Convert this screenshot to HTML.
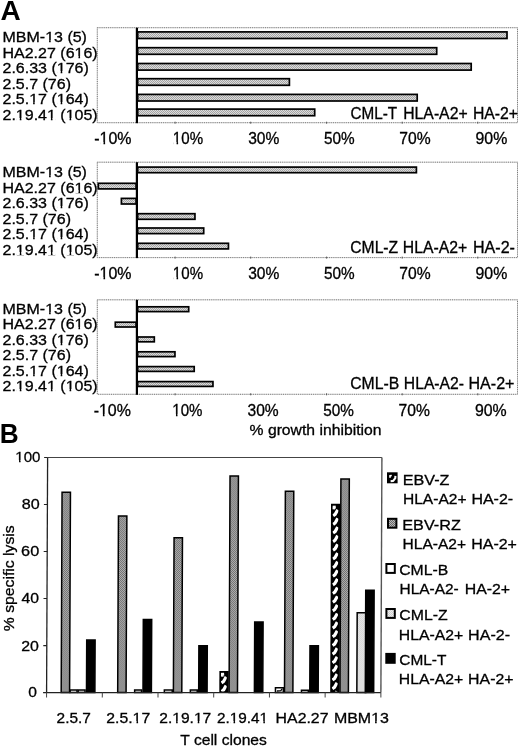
<!DOCTYPE html>
<html><head><meta charset="utf-8"><style>
html,body{margin:0;padding:0;background:#fff;}
svg{display:block;will-change:transform;filter:blur(0.35px);}
text{font-family:"Liberation Sans", sans-serif;fill:#000;stroke:#000;stroke-width:0.3px;}
</style></head><body>
<svg width="520" height="747" viewBox="0 0 520 747">
<defs>
<pattern id="stip" width="2" height="2" patternUnits="userSpaceOnUse"><rect width="2" height="2" fill="#dcdcdc"/><rect width="1" height="1" fill="#a4a4a4"/><rect x="1" y="1" width="1" height="1" fill="#a4a4a4"/></pattern>
<pattern id="stip2" width="2" height="2" patternUnits="userSpaceOnUse"><rect width="2" height="2" fill="#b8b8b8"/><rect width="1" height="1" fill="#686868"/><rect x="1" y="1" width="1" height="1" fill="#686868"/></pattern>
<pattern id="stip3" width="2" height="2" patternUnits="userSpaceOnUse"><rect width="2" height="2" fill="#eee"/><rect width="1" height="1" fill="#cfcfcf"/><rect x="1" y="1" width="1" height="1" fill="#cfcfcf"/></pattern>
</defs>
<rect width="520" height="747" fill="#fff"/>
<text x="0.45" y="20.20" font-size="27.3" textLength="20.21" lengthAdjust="spacingAndGlyphs" font-weight="bold" style="stroke-width:0">A</text>
<rect x="97.3" y="27.7" width="420.2" height="95.00" fill="none" stroke="#d8d8d8" stroke-width="1"/>
<rect x="97.3" y="27.7" width="420.2" height="95.00" fill="none" stroke="#7a7a7a" stroke-width="1" stroke-dasharray="1 1.15"/>
<line x1="175.10" y1="121.70" x2="175.10" y2="123.70" stroke="#555" stroke-width="1"/>
<line x1="250.70" y1="121.70" x2="250.70" y2="123.70" stroke="#555" stroke-width="1"/>
<line x1="326.60" y1="121.70" x2="326.60" y2="123.70" stroke="#555" stroke-width="1"/>
<line x1="402.20" y1="121.70" x2="402.20" y2="123.70" stroke="#555" stroke-width="1"/>
<line x1="477.80" y1="121.70" x2="477.80" y2="123.70" stroke="#555" stroke-width="1"/>
<rect x="137.70" y="31.90" width="369.30" height="6.60" fill="url(#stip)" stroke="#000" stroke-width="1.7"/>
<rect x="137.70" y="47.70" width="299.00" height="6.60" fill="url(#stip)" stroke="#000" stroke-width="1.7"/>
<rect x="137.70" y="63.50" width="333.50" height="6.60" fill="url(#stip)" stroke="#000" stroke-width="1.7"/>
<rect x="137.70" y="78.70" width="151.70" height="6.60" fill="url(#stip)" stroke="#000" stroke-width="1.7"/>
<rect x="137.70" y="94.40" width="279.50" height="6.60" fill="url(#stip)" stroke="#000" stroke-width="1.7"/>
<rect x="137.70" y="109.10" width="177.00" height="6.60" fill="url(#stip)" stroke="#000" stroke-width="1.7"/>
<line x1="136.90" y1="27.70" x2="136.90" y2="123.20" stroke="#000" stroke-width="2.2"/>
<text x="2.50" y="42.10" font-size="15.5" textLength="84.46" lengthAdjust="spacingAndGlyphs">MBM-13 (5)</text>
<text x="2.50" y="57.60" font-size="15.5" textLength="95.17" lengthAdjust="spacingAndGlyphs">HA2.27 (616)</text>
<text x="2.50" y="73.10" font-size="15.5" textLength="86.28" lengthAdjust="spacingAndGlyphs">2.6.33 (176)</text>
<text x="2.50" y="88.60" font-size="15.5" textLength="68.49" lengthAdjust="spacingAndGlyphs">2.5.7 (76)</text>
<text x="2.50" y="104.10" font-size="15.5" textLength="86.28" lengthAdjust="spacingAndGlyphs">2.5.17 (164)</text>
<text x="2.50" y="119.60" font-size="15.5" textLength="95.18" lengthAdjust="spacingAndGlyphs">2.19.41 (105)</text>
<text x="350.54" y="119.00" font-size="15.8" textLength="46.67" lengthAdjust="spacingAndGlyphs">CML-T</text>
<text x="403.24" y="119.00" font-size="15.8" textLength="64.36" lengthAdjust="spacingAndGlyphs">HLA-A2+</text>
<text x="472.94" y="119.00" font-size="15.8" textLength="45.11" lengthAdjust="spacingAndGlyphs">HA-2+</text>
<text x="94.28" y="144.30" font-size="15.8" textLength="37.27" lengthAdjust="spacingAndGlyphs">-10%</text>
<text x="172.87" y="144.30" font-size="15.8" textLength="30.18" lengthAdjust="spacingAndGlyphs">10%</text>
<text x="248.13" y="144.30" font-size="15.8" textLength="31.19" lengthAdjust="spacingAndGlyphs">30%</text>
<text x="323.89" y="144.30" font-size="15.8" textLength="30.67" lengthAdjust="spacingAndGlyphs">50%</text>
<text x="399.22" y="144.30" font-size="15.8" textLength="31.35" lengthAdjust="spacingAndGlyphs">70%</text>
<text x="475.54" y="144.30" font-size="15.8" textLength="31.79" lengthAdjust="spacingAndGlyphs">90%</text>
<rect x="97.3" y="162.2" width="420.2" height="95.40" fill="none" stroke="#d8d8d8" stroke-width="1"/>
<rect x="97.3" y="162.2" width="420.2" height="95.40" fill="none" stroke="#7a7a7a" stroke-width="1" stroke-dasharray="1 1.15"/>
<line x1="175.10" y1="256.60" x2="175.10" y2="258.60" stroke="#555" stroke-width="1"/>
<line x1="250.70" y1="256.60" x2="250.70" y2="258.60" stroke="#555" stroke-width="1"/>
<line x1="326.60" y1="256.60" x2="326.60" y2="258.60" stroke="#555" stroke-width="1"/>
<line x1="402.20" y1="256.60" x2="402.20" y2="258.60" stroke="#555" stroke-width="1"/>
<line x1="477.80" y1="256.60" x2="477.80" y2="258.60" stroke="#555" stroke-width="1"/>
<rect x="137.70" y="167.10" width="278.70" height="5.60" fill="url(#stip)" stroke="#000" stroke-width="1.7"/>
<rect x="98.30" y="183.30" width="37.80" height="5.60" fill="url(#stip)" stroke="#000" stroke-width="1.7"/>
<rect x="121.40" y="198.40" width="14.70" height="5.60" fill="url(#stip)" stroke="#000" stroke-width="1.7"/>
<rect x="137.70" y="213.70" width="57.25" height="5.60" fill="url(#stip)" stroke="#000" stroke-width="1.7"/>
<rect x="137.70" y="228.00" width="66.00" height="5.60" fill="url(#stip)" stroke="#000" stroke-width="1.7"/>
<rect x="137.70" y="243.30" width="90.75" height="5.60" fill="url(#stip)" stroke="#000" stroke-width="1.7"/>
<line x1="136.90" y1="162.20" x2="136.90" y2="258.10" stroke="#000" stroke-width="2.2"/>
<text x="2.50" y="177.00" font-size="15.5" textLength="84.46" lengthAdjust="spacingAndGlyphs">MBM-13 (5)</text>
<text x="2.50" y="192.50" font-size="15.5" textLength="95.17" lengthAdjust="spacingAndGlyphs">HA2.27 (616)</text>
<text x="2.50" y="208.00" font-size="15.5" textLength="86.28" lengthAdjust="spacingAndGlyphs">2.6.33 (176)</text>
<text x="2.50" y="223.50" font-size="15.5" textLength="68.49" lengthAdjust="spacingAndGlyphs">2.5.7 (76)</text>
<text x="2.50" y="239.00" font-size="15.5" textLength="86.28" lengthAdjust="spacingAndGlyphs">2.5.17 (164)</text>
<text x="2.50" y="254.50" font-size="15.5" textLength="95.18" lengthAdjust="spacingAndGlyphs">2.19.41 (105)</text>
<text x="350.22" y="253.30" font-size="15.8" textLength="47.96" lengthAdjust="spacingAndGlyphs">CML-Z</text>
<text x="402.84" y="253.30" font-size="15.8" textLength="64.36" lengthAdjust="spacingAndGlyphs">HLA-A2+</text>
<text x="473.01" y="253.30" font-size="15.8" textLength="41.95" lengthAdjust="spacingAndGlyphs">HA-2-</text>
<text x="94.28" y="279.10" font-size="15.8" textLength="37.27" lengthAdjust="spacingAndGlyphs">-10%</text>
<text x="172.87" y="279.10" font-size="15.8" textLength="30.18" lengthAdjust="spacingAndGlyphs">10%</text>
<text x="248.13" y="279.10" font-size="15.8" textLength="31.19" lengthAdjust="spacingAndGlyphs">30%</text>
<text x="323.89" y="279.10" font-size="15.8" textLength="30.67" lengthAdjust="spacingAndGlyphs">50%</text>
<text x="399.22" y="279.10" font-size="15.8" textLength="31.35" lengthAdjust="spacingAndGlyphs">70%</text>
<text x="475.54" y="279.10" font-size="15.8" textLength="31.79" lengthAdjust="spacingAndGlyphs">90%</text>
<rect x="97.3" y="299.8" width="420.2" height="94.50" fill="none" stroke="#d8d8d8" stroke-width="1"/>
<rect x="97.3" y="299.8" width="420.2" height="94.50" fill="none" stroke="#7a7a7a" stroke-width="1" stroke-dasharray="1 1.15"/>
<line x1="175.10" y1="393.30" x2="175.10" y2="395.30" stroke="#555" stroke-width="1"/>
<line x1="250.70" y1="393.30" x2="250.70" y2="395.30" stroke="#555" stroke-width="1"/>
<line x1="326.60" y1="393.30" x2="326.60" y2="395.30" stroke="#555" stroke-width="1"/>
<line x1="402.20" y1="393.30" x2="402.20" y2="395.30" stroke="#555" stroke-width="1"/>
<line x1="477.80" y1="393.30" x2="477.80" y2="395.30" stroke="#555" stroke-width="1"/>
<rect x="137.70" y="306.80" width="51.00" height="4.80" fill="url(#stip)" stroke="#000" stroke-width="1.7"/>
<rect x="115.30" y="322.20" width="20.80" height="4.80" fill="url(#stip)" stroke="#000" stroke-width="1.7"/>
<rect x="137.70" y="337.00" width="16.60" height="4.80" fill="url(#stip)" stroke="#000" stroke-width="1.7"/>
<rect x="137.70" y="351.80" width="37.25" height="4.80" fill="url(#stip)" stroke="#000" stroke-width="1.7"/>
<rect x="137.70" y="366.60" width="56.50" height="4.80" fill="url(#stip)" stroke="#000" stroke-width="1.7"/>
<rect x="137.70" y="381.60" width="75.25" height="4.80" fill="url(#stip)" stroke="#000" stroke-width="1.7"/>
<line x1="136.90" y1="299.80" x2="136.90" y2="394.80" stroke="#000" stroke-width="2.2"/>
<text x="2.50" y="313.80" font-size="15.5" textLength="84.46" lengthAdjust="spacingAndGlyphs">MBM-13 (5)</text>
<text x="2.50" y="329.30" font-size="15.5" textLength="95.17" lengthAdjust="spacingAndGlyphs">HA2.27 (616)</text>
<text x="2.50" y="344.80" font-size="15.5" textLength="86.28" lengthAdjust="spacingAndGlyphs">2.6.33 (176)</text>
<text x="2.50" y="360.30" font-size="15.5" textLength="68.49" lengthAdjust="spacingAndGlyphs">2.5.7 (76)</text>
<text x="2.50" y="375.80" font-size="15.5" textLength="86.28" lengthAdjust="spacingAndGlyphs">2.5.17 (164)</text>
<text x="2.50" y="391.30" font-size="15.5" textLength="95.18" lengthAdjust="spacingAndGlyphs">2.19.41 (105)</text>
<text x="350.21" y="389.20" font-size="15.8" textLength="49.00" lengthAdjust="spacingAndGlyphs">CML-B</text>
<text x="403.85" y="389.20" font-size="15.8" textLength="60.16" lengthAdjust="spacingAndGlyphs">HLA-A2-</text>
<text x="468.52" y="389.20" font-size="15.8" textLength="45.95" lengthAdjust="spacingAndGlyphs">HA-2+</text>
<text x="93.68" y="416.00" font-size="15.8" textLength="37.27" lengthAdjust="spacingAndGlyphs">-10%</text>
<text x="172.27" y="416.00" font-size="15.8" textLength="30.18" lengthAdjust="spacingAndGlyphs">10%</text>
<text x="247.53" y="416.00" font-size="15.8" textLength="31.19" lengthAdjust="spacingAndGlyphs">30%</text>
<text x="323.29" y="416.00" font-size="15.8" textLength="30.67" lengthAdjust="spacingAndGlyphs">50%</text>
<text x="398.62" y="416.00" font-size="15.8" textLength="31.35" lengthAdjust="spacingAndGlyphs">70%</text>
<text x="474.94" y="416.00" font-size="15.8" textLength="31.79" lengthAdjust="spacingAndGlyphs">90%</text>
<text x="249.55" y="434.70" font-size="15.0" textLength="131.95" lengthAdjust="spacingAndGlyphs">% growth inhibition</text>
<text x="-0.20" y="443.30" font-size="27.6" textLength="18.94" lengthAdjust="spacingAndGlyphs" font-weight="bold" style="stroke-width:0">B</text>
<g transform="translate(0,575) skewX(-0.25) translate(0,-575)">
<line x1="47.10" y1="457.50" x2="381.40" y2="457.50" stroke="#444" stroke-width="1.1"/>
<line x1="381.40" y1="457.50" x2="381.40" y2="692.60" stroke="#555" stroke-width="1.4"/>
<rect x="61.70" y="492.34" width="8.40" height="200.26" fill="url(#stip2)" stroke="#000" stroke-width="1.5"/>
<rect x="70.65" y="690.06" width="6.90" height="2.54" fill="#fff" stroke="#000" stroke-width="1.5"/>
<rect x="78.65" y="690.06" width="6.90" height="2.54" fill="url(#stip3)" stroke="#000" stroke-width="1.5"/>
<rect x="87.00" y="639.98" width="8.40" height="52.62" fill="#000" stroke="#000" stroke-width="1.5"/>
<rect x="118.20" y="516.08" width="8.40" height="176.52" fill="url(#stip2)" stroke="#000" stroke-width="1.5"/>
<rect x="135.15" y="690.06" width="6.90" height="2.54" fill="url(#stip3)" stroke="#000" stroke-width="1.5"/>
<rect x="143.50" y="619.53" width="8.40" height="73.07" fill="#000" stroke="#000" stroke-width="1.5"/>
<rect x="164.85" y="690.06" width="7.90" height="2.54" fill="#fff" stroke="#000" stroke-width="1.5"/>
<rect x="173.90" y="537.71" width="8.40" height="154.89" fill="url(#stip2)" stroke="#000" stroke-width="1.5"/>
<rect x="190.85" y="690.06" width="6.90" height="2.54" fill="url(#stip3)" stroke="#000" stroke-width="1.5"/>
<rect x="199.20" y="645.86" width="8.40" height="46.74" fill="#000" stroke="#000" stroke-width="1.5"/>
<rect x="219.80" y="670.97" width="9.40" height="21.63" fill="#000"/>
<clipPath id="hc1"><rect x="221.40" y="672.57" width="5.80" height="18.83"/></clipPath>
<path clip-path="url(#hc1)" d="M222.30 676.57 L222.50 674.17 L224.60 673.97 M222.00 682.87 L224.00 681.47 L226.60 676.87 M222.00 691.52 L224.00 690.12 L226.60 685.52 M222.00 700.17 L224.00 698.77 L226.60 694.17" stroke="#fff" stroke-width="3.2" fill="none"/>
<rect x="229.60" y="476.12" width="8.40" height="216.48" fill="url(#stip2)" stroke="#000" stroke-width="1.5"/>
<rect x="254.90" y="622.11" width="8.40" height="70.49" fill="#000" stroke="#000" stroke-width="1.5"/>
<rect x="275.95" y="687.71" width="7.90" height="4.89" fill="#fff" stroke="#000" stroke-width="1.5"/>
<path d="M277.40 691.00 L281.40 690.70 L282.60 688.76" stroke="#000" stroke-width="1.3" fill="none"/>
<rect x="285.00" y="491.16" width="8.40" height="201.44" fill="url(#stip2)" stroke="#000" stroke-width="1.5"/>
<rect x="301.95" y="690.29" width="6.90" height="2.31" fill="url(#stip3)" stroke="#000" stroke-width="1.5"/>
<rect x="310.30" y="645.86" width="8.40" height="46.74" fill="#000" stroke="#000" stroke-width="1.5"/>
<rect x="330.70" y="503.81" width="9.40" height="188.79" fill="#000"/>
<clipPath id="hc2"><rect x="332.30" y="505.41" width="5.80" height="185.99"/></clipPath>
<path clip-path="url(#hc2)" d="M333.20 509.41 L333.40 507.01 L335.50 506.81 M332.90 515.71 L334.90 514.31 L337.50 509.71 M332.90 524.36 L334.90 522.96 L337.50 518.36 M332.90 533.01 L334.90 531.61 L337.50 527.01 M332.90 541.66 L334.90 540.26 L337.50 535.66 M332.90 550.31 L334.90 548.91 L337.50 544.31 M332.90 558.96 L334.90 557.56 L337.50 552.96 M332.90 567.61 L334.90 566.21 L337.50 561.61 M332.90 576.26 L334.90 574.86 L337.50 570.26 M332.90 584.91 L334.90 583.51 L337.50 578.91 M332.90 593.56 L334.90 592.16 L337.50 587.56 M332.90 602.21 L334.90 600.81 L337.50 596.21 M332.90 610.86 L334.90 609.46 L337.50 604.86 M332.90 619.51 L334.90 618.11 L337.50 613.51 M332.90 628.16 L334.90 626.76 L337.50 622.16 M332.90 636.81 L334.90 635.41 L337.50 630.81 M332.90 645.46 L334.90 644.06 L337.50 639.46 M332.90 654.11 L334.90 652.71 L337.50 648.11 M332.90 662.76 L334.90 661.36 L337.50 656.76 M332.90 671.41 L334.90 670.01 L337.50 665.41 M332.90 680.06 L334.90 678.66 L337.50 674.06 M332.90 688.71 L334.90 687.31 L337.50 682.71 M332.90 697.36 L334.90 695.96 L337.50 691.36" stroke="#fff" stroke-width="3.2" fill="none"/>
<rect x="340.50" y="478.94" width="8.40" height="213.66" fill="url(#stip2)" stroke="#000" stroke-width="1.5"/>
<rect x="357.35" y="612.71" width="8.90" height="79.89" fill="url(#stip3)" stroke="#000" stroke-width="1.5"/>
<rect x="365.80" y="590.14" width="8.40" height="102.46" fill="#000" stroke="#000" stroke-width="1.5"/>
<line x1="47.10" y1="457.50" x2="47.10" y2="692.60" stroke="#222" stroke-width="1.3"/>
<line x1="46.50" y1="692.60" x2="381.40" y2="692.60" stroke="#222" stroke-width="1.4"/>
<line x1="43.60" y1="692.60" x2="47.10" y2="692.60" stroke="#222" stroke-width="1.1"/>
<line x1="43.60" y1="645.58" x2="47.10" y2="645.58" stroke="#222" stroke-width="1.1"/>
<line x1="43.60" y1="598.56" x2="47.10" y2="598.56" stroke="#222" stroke-width="1.1"/>
<line x1="43.60" y1="551.54" x2="47.10" y2="551.54" stroke="#222" stroke-width="1.1"/>
<line x1="43.60" y1="504.52" x2="47.10" y2="504.52" stroke="#222" stroke-width="1.1"/>
<line x1="43.60" y1="457.50" x2="47.10" y2="457.50" stroke="#222" stroke-width="1.1"/>
<line x1="47.10" y1="692.60" x2="47.10" y2="697.60" stroke="#444" stroke-width="1"/>
<line x1="102.82" y1="692.60" x2="102.82" y2="697.60" stroke="#444" stroke-width="1"/>
<line x1="158.53" y1="692.60" x2="158.53" y2="697.60" stroke="#444" stroke-width="1"/>
<line x1="214.25" y1="692.60" x2="214.25" y2="697.60" stroke="#444" stroke-width="1"/>
<line x1="269.97" y1="692.60" x2="269.97" y2="697.60" stroke="#444" stroke-width="1"/>
<line x1="325.68" y1="692.60" x2="325.68" y2="697.60" stroke="#444" stroke-width="1"/>
<line x1="381.40" y1="692.60" x2="381.40" y2="697.60" stroke="#444" stroke-width="1"/>
</g>
<text x="15.37" y="461.90" font-size="15.0" textLength="25.11" lengthAdjust="spacingAndGlyphs">100</text>
<text x="21.77" y="508.90" font-size="15.0" textLength="17.93" lengthAdjust="spacingAndGlyphs">80</text>
<text x="21.09" y="555.60" font-size="15.0" textLength="18.12" lengthAdjust="spacingAndGlyphs">60</text>
<text x="21.59" y="602.80" font-size="15.0" textLength="17.50" lengthAdjust="spacingAndGlyphs">40</text>
<text x="21.20" y="650.60" font-size="15.0" textLength="17.69" lengthAdjust="spacingAndGlyphs">20</text>
<text x="28.27" y="697.20" font-size="15.0" textLength="8.69" lengthAdjust="spacingAndGlyphs">0</text>
<text x="56.63" y="722.60" font-size="15.0" textLength="34.33" lengthAdjust="spacingAndGlyphs">2.5.7</text>
<text x="106.31" y="722.60" font-size="15.0" textLength="43.88" lengthAdjust="spacingAndGlyphs">2.5.17</text>
<text x="159.32" y="722.60" font-size="15.0" textLength="51.88" lengthAdjust="spacingAndGlyphs">2.19.17</text>
<text x="217.03" y="722.60" font-size="15.0" textLength="51.08" lengthAdjust="spacingAndGlyphs">2.19.41</text>
<text x="275.63" y="722.60" font-size="15.0" textLength="52.87" lengthAdjust="spacingAndGlyphs">HA2.27</text>
<text x="333.92" y="722.60" font-size="15.0" textLength="55.02" lengthAdjust="spacingAndGlyphs">MBM13</text>
<text x="180.29" y="744.50" font-size="15.0" textLength="86.55" lengthAdjust="spacingAndGlyphs">T cell clones</text>
<text x="-631.25" y="13.8" font-size="15.0" transform="rotate(-90)" textLength="105.98" lengthAdjust="spacingAndGlyphs">% specific lysis</text>
<rect x="387.00" y="472.30" width="10.60" height="11.00" fill="#000"/>
<path d="M390.6 481.2 L393.2 480.9 L395.3 478.1 L395.4 475.9" stroke="#fff" stroke-width="2.1" fill="none" stroke-linejoin="round"/>
<path d="M390.0 477.7 L390.1 475.7 L391.8 475.5" stroke="#fff" stroke-width="1.7" fill="none"/>
<text x="402.71" y="485.00" font-size="15.0" textLength="46.78" lengthAdjust="spacingAndGlyphs">EBV-Z</text>
<text x="402.95" y="503.60" font-size="15.0" textLength="63.63" lengthAdjust="spacingAndGlyphs">HLA-A2+</text>
<text x="471.42" y="503.60" font-size="15.0" textLength="41.74" lengthAdjust="spacingAndGlyphs">HA-2-</text>
<rect x="388.00" y="518.80" width="8.40" height="8.90" fill="url(#stip2)" stroke="#000" stroke-width="2"/>
<text x="402.30" y="529.80" font-size="15.0" textLength="58.51" lengthAdjust="spacingAndGlyphs">EBV-RZ</text>
<text x="402.56" y="549.00" font-size="15.0" textLength="63.53" lengthAdjust="spacingAndGlyphs">HLA-A2+</text>
<text x="471.22" y="549.00" font-size="15.0" textLength="45.74" lengthAdjust="spacingAndGlyphs">HA-2+</text>
<rect x="386.40" y="564.00" width="8.40" height="8.90" fill="#fff" stroke="#000" stroke-width="2"/>
<text x="399.21" y="575.30" font-size="15.0" textLength="49.00" lengthAdjust="spacingAndGlyphs">CML-B</text>
<text x="399.56" y="593.70" font-size="15.0" textLength="59.23" lengthAdjust="spacingAndGlyphs">HLA-A2-</text>
<text x="464.73" y="593.70" font-size="15.0" textLength="45.42" lengthAdjust="spacingAndGlyphs">HA-2+</text>
<rect x="386.40" y="609.00" width="8.40" height="8.90" fill="url(#stip3)" stroke="#000" stroke-width="2"/>
<text x="399.31" y="620.20" font-size="15.0" textLength="48.37" lengthAdjust="spacingAndGlyphs">CML-Z</text>
<text x="398.84" y="639.60" font-size="15.0" textLength="64.46" lengthAdjust="spacingAndGlyphs">HLA-A2+</text>
<text x="468.11" y="639.60" font-size="15.0" textLength="41.95" lengthAdjust="spacingAndGlyphs">HA-2-</text>
<rect x="386.30" y="653.90" width="8.40" height="8.90" fill="#000" stroke="#000" stroke-width="2"/>
<text x="399.33" y="664.80" font-size="15.0" textLength="47.08" lengthAdjust="spacingAndGlyphs">CML-T</text>
<text x="398.84" y="683.75" font-size="15.0" textLength="64.46" lengthAdjust="spacingAndGlyphs">HLA-A2+</text>
<text x="468.13" y="683.75" font-size="15.0" textLength="45.37" lengthAdjust="spacingAndGlyphs">HA-2+</text>
<rect x="45.68" y="40.00" width="3.40" height="3.00" fill="#fff"/>
<rect x="50.69" y="40.00" width="3.32" height="3.00" fill="#fff"/>
<rect x="75.06" y="56.00" width="3.40" height="3.00" fill="#fff"/>
<rect x="80.08" y="56.00" width="3.32" height="3.00" fill="#fff"/>
<rect x="57.27" y="71.00" width="3.40" height="3.00" fill="#fff"/>
<rect x="62.28" y="71.00" width="3.32" height="3.00" fill="#fff"/>
<rect x="29.71" y="102.00" width="3.40" height="3.00" fill="#fff"/>
<rect x="34.72" y="102.00" width="3.32" height="3.00" fill="#fff"/>
<rect x="57.27" y="102.00" width="3.40" height="3.00" fill="#fff"/>
<rect x="62.28" y="102.00" width="3.32" height="3.00" fill="#fff"/>
<rect x="16.37" y="118.00" width="3.40" height="3.00" fill="#fff"/>
<rect x="21.39" y="118.00" width="3.32" height="3.00" fill="#fff"/>
<rect x="47.51" y="118.00" width="3.39" height="3.00" fill="#fff"/>
<rect x="52.52" y="118.00" width="3.32" height="3.00" fill="#fff"/>
<rect x="66.17" y="118.00" width="3.40" height="3.00" fill="#fff"/>
<rect x="71.19" y="118.00" width="3.32" height="3.00" fill="#fff"/>
<rect x="100.12" y="142.00" width="3.38" height="3.00" fill="#fff"/>
<rect x="105.11" y="142.00" width="3.31" height="3.00" fill="#fff"/>
<rect x="173.37" y="142.00" width="3.19" height="3.00" fill="#fff"/>
<rect x="178.10" y="142.00" width="3.12" height="3.00" fill="#fff"/>
<rect x="45.68" y="175.00" width="3.40" height="3.00" fill="#fff"/>
<rect x="50.69" y="175.00" width="3.32" height="3.00" fill="#fff"/>
<rect x="75.06" y="190.00" width="3.40" height="3.00" fill="#fff"/>
<rect x="80.08" y="190.00" width="3.32" height="3.00" fill="#fff"/>
<rect x="57.27" y="206.00" width="3.40" height="3.00" fill="#fff"/>
<rect x="62.28" y="206.00" width="3.32" height="3.00" fill="#fff"/>
<rect x="29.71" y="237.00" width="3.40" height="3.00" fill="#fff"/>
<rect x="34.72" y="237.00" width="3.32" height="3.00" fill="#fff"/>
<rect x="57.27" y="237.00" width="3.40" height="3.00" fill="#fff"/>
<rect x="62.28" y="237.00" width="3.32" height="3.00" fill="#fff"/>
<rect x="16.37" y="252.00" width="3.40" height="3.00" fill="#fff"/>
<rect x="21.39" y="252.00" width="3.32" height="3.00" fill="#fff"/>
<rect x="47.51" y="252.00" width="3.39" height="3.00" fill="#fff"/>
<rect x="52.52" y="252.00" width="3.32" height="3.00" fill="#fff"/>
<rect x="66.17" y="252.00" width="3.40" height="3.00" fill="#fff"/>
<rect x="71.19" y="252.00" width="3.32" height="3.00" fill="#fff"/>
<rect x="100.12" y="277.00" width="3.38" height="3.00" fill="#fff"/>
<rect x="105.11" y="277.00" width="3.31" height="3.00" fill="#fff"/>
<rect x="173.37" y="277.00" width="3.19" height="3.00" fill="#fff"/>
<rect x="178.10" y="277.00" width="3.12" height="3.00" fill="#fff"/>
<rect x="45.68" y="312.00" width="3.40" height="3.00" fill="#fff"/>
<rect x="50.69" y="312.00" width="3.32" height="3.00" fill="#fff"/>
<rect x="75.06" y="327.00" width="3.40" height="3.00" fill="#fff"/>
<rect x="80.08" y="327.00" width="3.32" height="3.00" fill="#fff"/>
<rect x="57.27" y="343.00" width="3.40" height="3.00" fill="#fff"/>
<rect x="62.28" y="343.00" width="3.32" height="3.00" fill="#fff"/>
<rect x="29.71" y="374.00" width="3.40" height="3.00" fill="#fff"/>
<rect x="34.72" y="374.00" width="3.32" height="3.00" fill="#fff"/>
<rect x="57.27" y="374.00" width="3.40" height="3.00" fill="#fff"/>
<rect x="62.28" y="374.00" width="3.32" height="3.00" fill="#fff"/>
<rect x="16.37" y="389.00" width="3.40" height="3.00" fill="#fff"/>
<rect x="21.39" y="389.00" width="3.32" height="3.00" fill="#fff"/>
<rect x="47.51" y="389.00" width="3.39" height="3.00" fill="#fff"/>
<rect x="52.52" y="389.00" width="3.32" height="3.00" fill="#fff"/>
<rect x="66.17" y="389.00" width="3.40" height="3.00" fill="#fff"/>
<rect x="71.19" y="389.00" width="3.32" height="3.00" fill="#fff"/>
<rect x="99.52" y="414.00" width="3.38" height="3.00" fill="#fff"/>
<rect x="104.51" y="414.00" width="3.31" height="3.00" fill="#fff"/>
<rect x="172.77" y="414.00" width="3.19" height="3.00" fill="#fff"/>
<rect x="177.50" y="414.00" width="3.12" height="3.00" fill="#fff"/>
<rect x="15.87" y="460.00" width="3.18" height="3.00" fill="#fff"/>
<rect x="20.58" y="460.00" width="3.11" height="3.00" fill="#fff"/>
<rect x="133.15" y="721.00" width="3.35" height="3.00" fill="#fff"/>
<rect x="138.09" y="721.00" width="3.28" height="3.00" fill="#fff"/>
<rect x="172.80" y="721.00" width="3.30" height="3.00" fill="#fff"/>
<rect x="177.67" y="721.00" width="3.23" height="3.00" fill="#fff"/>
<rect x="194.42" y="721.00" width="3.30" height="3.00" fill="#fff"/>
<rect x="199.30" y="721.00" width="3.23" height="3.00" fill="#fff"/>
<rect x="230.30" y="721.00" width="3.24" height="3.00" fill="#fff"/>
<rect x="235.10" y="721.00" width="3.18" height="3.00" fill="#fff"/>
<rect x="260.10" y="721.00" width="3.24" height="3.00" fill="#fff"/>
<rect x="264.90" y="721.00" width="3.17" height="3.00" fill="#fff"/>
<rect x="371.69" y="721.00" width="3.39" height="3.00" fill="#fff"/>
<rect x="376.70" y="721.00" width="3.32" height="3.00" fill="#fff"/>
</svg>
</body></html>
